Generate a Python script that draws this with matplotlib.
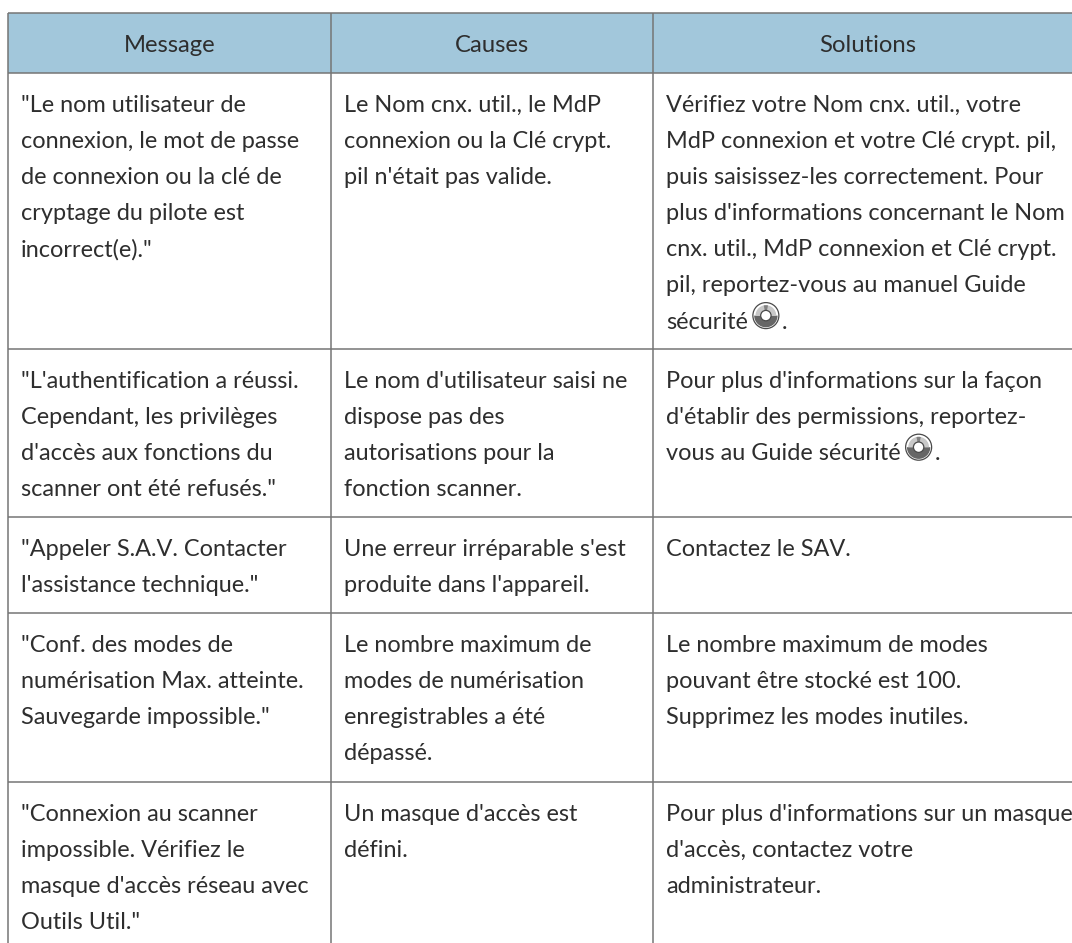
import matplotlib
matplotlib.use('Agg')
import matplotlib.pyplot as plt
from matplotlib.patches import Circle, Wedge

plt.rcParams['font.family'] = ['Lato', 'DejaVu Sans']

headers = ['Message', 'Causes', 'Solutions']

messages = [
    ['"Le nom utilisateur de', 'connexion, le mot de passe', 'de connexion ou la clé de',
     'cryptage du pilote est', 'incorrect(e)."'],
    ['"L\'authentification a réussi.', 'Cependant, les privilèges', 'd\'accès aux fonctions du',
     'scanner ont été refusés."'],
    ['"Appeler S.A.V. Contacter', 'l\'assistance technique."'],
    ['"Conf. des modes de', 'numérisation Max. atteinte.', 'Sauvegarde impossible."'],
    ['"Connexion au scanner', 'impossible. Vérifiez le', 'masque d\'accès réseau avec', 'Outils Util."'],
]
causes = [
    ['Le Nom cnx. util., le MdP', 'connexion ou la Clé crypt.', 'pil n\'était pas valide.'],
    ['Le nom d\'utilisateur saisi ne', 'dispose pas des', 'autorisations pour la', 'fonction scanner.'],
    ['Une erreur irréparable s\'est', 'produite dans l\'appareil.'],
    ['Le nombre maximum de', 'modes de numérisation', 'enregistrables a été', 'dépassé.'],
    ['Un masque d\'accès est', 'défini.'],
]
solutions = [
    ['Vérifiez votre Nom cnx. util., votre', 'MdP connexion et votre Clé crypt. pil,',
     'puis saisissez-les correctement. Pour', 'plus d\'informations concernant le Nom',
     'cnx. util., MdP connexion et Clé crypt.', 'pil, reportez-vous au manuel Guide', 'sécurité'],
    ['Pour plus d\'informations sur la façon', 'd\'établir des permissions, reportez-',
     'vous au Guide sécurité'],
    ['Contactez le SAV.'],
    ['Le nombre maximum de modes', 'pouvant être stocké est 100.', 'Supprimez les modes inutiles.'],
    ['Pour plus d\'informations sur un masque', 'd\'accès, contactez votre', 'administrateur.'],
]
# (row, line) of the lines that end with the disc icon
disc_lines = [(0, 6), (1, 2)]

col_edges = [8, 331, 653, 1083]
row_edges = [73, 349, 517, 613, 782]
table_top = 13

W, H = 1072, 943
line_h = 36.1
fs = 16.9
txt_col = '#2e2e2e'
line_col = '#757575'

fig = plt.figure(figsize=(W / 100, H / 100), dpi=100)
ax = fig.add_axes([0, 0, 1, 1])
ax.set_xlim(0, W)
ax.set_ylim(H, 0)
ax.axis('off')

# header band and grid
ax.axhspan(table_top, row_edges[0], xmin=col_edges[0] / W, xmax=1, color='#a2c7db', lw=0)
ax.hlines([table_top] + row_edges, col_edges[0], W, color=line_col, lw=1.1)
ax.vlines(col_edges[:3], table_top, H, color=line_col, lw=1.1)

for i, h in enumerate(headers):
    ax.text((col_edges[i] + col_edges[i + 1]) / 2, 52, h, ha='center', va='baseline',
            fontsize=fs + 0.3, color=txt_col)

fig.canvas.draw()
rend = fig.canvas.get_renderer()


def draw_disc(cx, cy, r=13):
    ax.add_patch(Circle((cx, cy), r, fc='white', ec='#4a4a4a', lw=0.9, zorder=3))
    ax.add_patch(Wedge((cx, cy), r * 0.9, 0, 180, fc='#666666', ec='none', zorder=4))
    ax.add_patch(Wedge((cx, cy), r * 0.8, 180, 360, fc='#c8c8c8', ec='none', zorder=4))
    ax.add_patch(Wedge((cx, cy), r * 0.8, 258, 282, fc='#808080', ec='none', zorder=5))
    ax.add_patch(Circle((cx, cy), r * 0.4, fc='white', ec='#4a4a4a', lw=0.9, zorder=6))


for c, col in enumerate([messages, causes, solutions]):
    for r, cell in enumerate(col):
        for k, s in enumerate(cell):
            y = row_edges[r] + 39 + k * line_h
            t = ax.text(col_edges[c] + 13, y, s, ha='left', va='baseline',
                        fontsize=fs, color=txt_col)
            if c == 2 and (r, k) in disc_lines:
                x1 = t.get_window_extent(rend).x1
                draw_disc(x1 + 18, y - 13)
                ax.text(x1 + 34, y, '.', ha='left', va='baseline', fontsize=fs, color=txt_col)

fig.savefig('out.png', dpi=100)
